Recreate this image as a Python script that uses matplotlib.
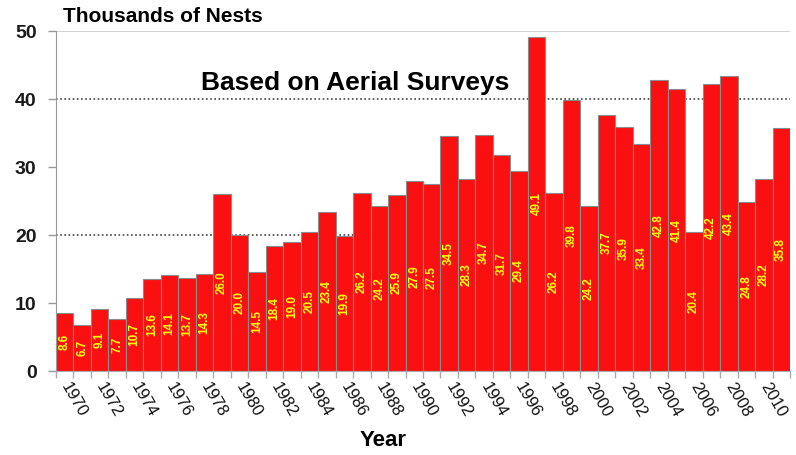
import matplotlib as mpl
mpl.use("Agg")
import matplotlib.pyplot as plt
import numpy as np

years = list(range(1970, 2012))
nests = [8.6, 6.7, 9.1, 7.7, 10.7, 13.6, 14.1, 13.7, 14.3, 26.0,
         20.0, 14.5, 18.4, 19.0, 20.5, 23.4, 19.9, 26.2, 24.2, 25.9,
         27.9, 27.5, 34.5, 28.3, 34.7, 31.7, 29.4, 49.1, 26.2, 39.8,
         24.2, 37.7, 35.9, 33.4, 42.8, 41.4, 20.4, 42.2, 43.4, 24.8,
         28.2, 35.8]
y_ticks = [0, 10, 20, 30, 40, 50]
grid_levels = [20, 40]
y_title = "Thousands of Nests"
x_title = "Year"
note = "Based on Aerial Surveys"

mpl.rcParams["font.family"] = ["Liberation Sans", "DejaVu Sans"]

fig = plt.figure(figsize=(7.96, 4.55), dpi=100)
ax = fig.add_axes([56/796, 1 - 371/455, 734/796, 340/455])

x = np.arange(len(years))

# gridlines behind the bars
for g in grid_levels:
    ax.axhline(g, color="#444444", lw=1.2, ls=(0, (1, 1.5)), zorder=0)
ax.axhline(50, color="#cccccc", lw=1.2, zorder=0)

ax.bar(x, nests, width=1.0, color="#fa1010", edgecolor="#8c8c8c", lw=0.8, zorder=2)

# value labels, centred inside each bar
for xi, v in zip(x, nests):
    ax.text(xi, v / 2, f"{v:.1f}", rotation=90, ha="center", va="center",
            color="#ffff00", fontsize=8.5, fontweight="bold", zorder=3)

ax.set_xlim(-0.5, len(years) - 0.5)
ax.set_ylim(0, 50)

ax.set_yticks(y_ticks)
ax.set_yticklabels([str(t) for t in y_ticks], fontsize=14, fontweight="bold", color="#1a1a1a")
ax.tick_params(axis="y", length=6, width=1, color="#999999", pad=8)

# labels every second year, tick marks between bars
ax.set_xticks(x[::2])
ax.set_xticklabels([str(y) for y in years[::2]], rotation=-60, ha="left", va="center",
                   rotation_mode="anchor", fontsize=12, color="#111111")
ax.tick_params(axis="x", which="major", length=0, pad=9)
ax.set_xticks(np.arange(-0.5, len(years)), minor=True)
ax.tick_params(axis="x", which="minor", length=5, width=1, color="#aaaaaa")

for s in ["top", "right"]:
    ax.spines[s].set_visible(False)
ax.spines["left"].set_color("#999999")
ax.spines["bottom"].set_color("#aaaaaa")

fig.text(63/796, 1 - 17/455, y_title, fontsize=15, fontweight="bold", va="center", ha="left")
fig.text(383/796, 1 - 440/455, x_title, fontsize=16, fontweight="bold", va="center", ha="center")
fig.text(355/796, 1 - 83/455, note, fontsize=19, fontweight="bold", ha="center", va="center")

fig.savefig("out.png", dpi=100)
